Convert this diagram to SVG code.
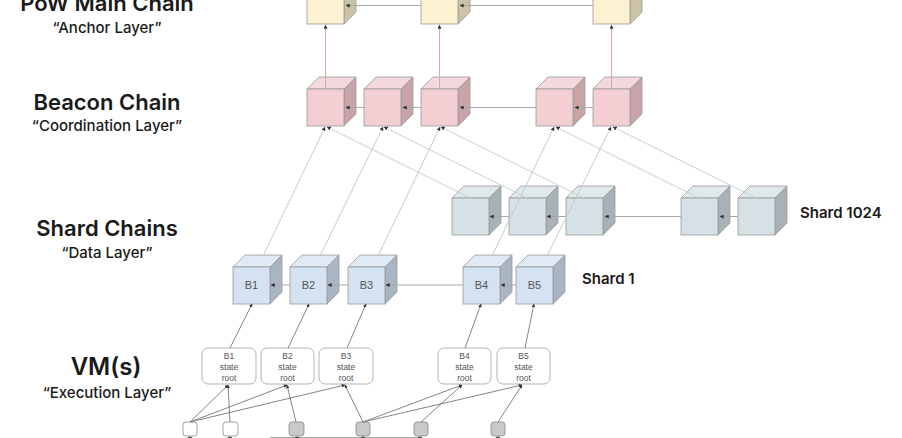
<svg xmlns="http://www.w3.org/2000/svg" width="902" height="438" viewBox="0 0 902 438">
<defs>
<style>
.h{font-family:Inter,Lato,"Noto Sans",sans-serif;font-weight:600;font-size:22px;fill:#1a1a1a;text-anchor:middle}
.sub{font-family:Inter,Lato,"Noto Sans",sans-serif;font-weight:500;font-size:15px;fill:#1a1a1a;text-anchor:middle}
.lbl{font-family:Inter,Lato,"Noto Sans",sans-serif;font-weight:600;font-size:15px;fill:#1a1a1a}
.cl{font-family:"Liberation Sans",Arial,sans-serif;font-size:11px;fill:#555;text-anchor:middle}
.rt{font-family:"Liberation Sans",Arial,sans-serif;font-size:8.5px;fill:#555;text-anchor:middle}
.cube polygon,.cube rect{stroke:#9a9a9a;stroke-width:0.8}
.pow .f{fill:#fcf1d0}.pow .t{fill:#f3ead2}.pow .s{fill:#cbc3a6}
.bea .f{fill:#f3cfd4}.bea .t{fill:#f4d9dc}.bea .s{fill:#c8a4a9}
.s1k .f{fill:#d5e1e5}.s1k .t{fill:#dfe8eb}.s1k .s{fill:#a8b2b6}
.sh1 .f{fill:#d4e2f1}.sh1 .t{fill:#e0eaf4}.sh1 .s{fill:#a9b5c3}
.root rect{fill:#fff;stroke:#aaa;stroke-width:0.9}
.sq rect{stroke:#888;stroke-width:0.8}
.chain{stroke:#a8a8a8;stroke-width:1;fill:none}
.up{stroke:#d7a9af;stroke-width:1;fill:none}
.lt{stroke:#c3cad2;stroke-width:1;fill:none}
.lg{stroke:#c9d2d0;stroke-width:1;fill:none}
.dk{stroke:#777;stroke-width:0.9;fill:none}
</style>
<marker id="ah" viewBox="0 0 6 6" refX="5.5" refY="3" markerWidth="4" markerHeight="4" orient="auto"><path d="M0,0L6,3L0,6z" fill="#333"/></marker>
</defs>
<rect width="902" height="438" fill="#fff"/>

<!-- Layer labels -->
<g id="labels">
<text class="h" x="107" y="11">PoW Main Chain</text>
<text class="sub" x="107" y="33">“Anchor Layer”</text>
<text class="h" x="107" y="110">Beacon Chain</text>
<text class="sub" x="107" y="131">“Coordination Layer”</text>
<text class="h" x="107" y="236">Shard Chains</text>
<text class="sub" x="107" y="258">“Data Layer”</text>
<text class="h" x="106" y="375" style="font-size:24px">VM(s)</text>
<text class="sub" x="107" y="398">“Execution Layer”</text>
<text class="lbl" x="800" y="218">Shard 1024</text>
<text class="lbl" x="582" y="284">Shard 1</text>
</g>

<!-- PoW cubes -->
<g id="pow-1" class="cube pow" transform="translate(307,-13)"><polygon class="t" points="0,0 12,-12 49,-12 37,0"/><polygon class="s" points="37,0 49,-12 49,25 37,37"/><rect class="f" width="37" height="37"/></g>
<g id="pow-2" class="cube pow" transform="translate(421,-13)"><polygon class="t" points="0,0 12,-12 49,-12 37,0"/><polygon class="s" points="37,0 49,-12 49,25 37,37"/><rect class="f" width="37" height="37"/></g>
<g id="pow-3" class="cube pow" transform="translate(593,-13)"><polygon class="t" points="0,0 12,-12 49,-12 37,0"/><polygon class="s" points="37,0 49,-12 49,25 37,37"/><rect class="f" width="37" height="37"/></g>

<!-- Beacon cubes -->
<g id="beacon-1" class="cube bea" transform="translate(307,89)"><polygon class="t" points="0,0 12,-12 49,-12 37,0"/><polygon class="s" points="37,0 49,-12 49,25 37,37"/><rect class="f" width="37" height="37"/></g>
<g id="beacon-2" class="cube bea" transform="translate(364,89)"><polygon class="t" points="0,0 12,-12 49,-12 37,0"/><polygon class="s" points="37,0 49,-12 49,25 37,37"/><rect class="f" width="37" height="37"/></g>
<g id="beacon-3" class="cube bea" transform="translate(421,89)"><polygon class="t" points="0,0 12,-12 49,-12 37,0"/><polygon class="s" points="37,0 49,-12 49,25 37,37"/><rect class="f" width="37" height="37"/></g>
<g id="beacon-4" class="cube bea" transform="translate(536,89)"><polygon class="t" points="0,0 12,-12 49,-12 37,0"/><polygon class="s" points="37,0 49,-12 49,25 37,37"/><rect class="f" width="37" height="37"/></g>
<g id="beacon-5" class="cube bea" transform="translate(593,89)"><polygon class="t" points="0,0 12,-12 49,-12 37,0"/><polygon class="s" points="37,0 49,-12 49,25 37,37"/><rect class="f" width="37" height="37"/></g>

<!-- Shard 1024 cubes -->
<g id="s1024-1" class="cube s1k" transform="translate(452,198)"><polygon class="t" points="0,0 12,-12 49,-12 37,0"/><polygon class="s" points="37,0 49,-12 49,25 37,37"/><rect class="f" width="37" height="37"/></g>
<g id="s1024-2" class="cube s1k" transform="translate(509,198)"><polygon class="t" points="0,0 12,-12 49,-12 37,0"/><polygon class="s" points="37,0 49,-12 49,25 37,37"/><rect class="f" width="37" height="37"/></g>
<g id="s1024-3" class="cube s1k" transform="translate(566,198)"><polygon class="t" points="0,0 12,-12 49,-12 37,0"/><polygon class="s" points="37,0 49,-12 49,25 37,37"/><rect class="f" width="37" height="37"/></g>
<g id="s1024-4" class="cube s1k" transform="translate(681,198)"><polygon class="t" points="0,0 12,-12 49,-12 37,0"/><polygon class="s" points="37,0 49,-12 49,25 37,37"/><rect class="f" width="37" height="37"/></g>
<g id="s1024-5" class="cube s1k" transform="translate(738,198)"><polygon class="t" points="0,0 12,-12 49,-12 37,0"/><polygon class="s" points="37,0 49,-12 49,25 37,37"/><rect class="f" width="37" height="37"/></g>

<!-- Shard 1 cubes -->
<g id="s1-b1" class="cube sh1" transform="translate(233,267)"><polygon class="t" points="0,0 12,-12 49,-12 37,0"/><polygon class="s" points="37,0 49,-12 49,25 37,37"/><rect class="f" width="37" height="37"/><text class="cl" x="18.5" y="22">B1</text></g>
<g id="s1-b2" class="cube sh1" transform="translate(290,267)"><polygon class="t" points="0,0 12,-12 49,-12 37,0"/><polygon class="s" points="37,0 49,-12 49,25 37,37"/><rect class="f" width="37" height="37"/><text class="cl" x="18.5" y="22">B2</text></g>
<g id="s1-b3" class="cube sh1" transform="translate(348,267)"><polygon class="t" points="0,0 12,-12 49,-12 37,0"/><polygon class="s" points="37,0 49,-12 49,25 37,37"/><rect class="f" width="37" height="37"/><text class="cl" x="18.5" y="22">B3</text></g>
<g id="s1-b4" class="cube sh1" transform="translate(463,267)"><polygon class="t" points="0,0 12,-12 49,-12 37,0"/><polygon class="s" points="37,0 49,-12 49,25 37,37"/><rect class="f" width="37" height="37"/><text class="cl" x="18.5" y="22">B4</text></g>
<g id="s1-b5" class="cube sh1" transform="translate(516,267)"><polygon class="t" points="0,0 12,-12 49,-12 37,0"/><polygon class="s" points="37,0 49,-12 49,25 37,37"/><rect class="f" width="37" height="37"/><text class="cl" x="18.5" y="22">B5</text></g>

<!-- State roots -->
<g id="root-b1" class="root"><rect x="202" y="348" width="54" height="36" rx="6"/><text class="rt" x="229" y="359">B1</text><text class="rt" x="229" y="370">state</text><text class="rt" x="229" y="381">root</text></g>
<g id="root-b2" class="root"><rect x="261" y="348" width="53" height="36" rx="6"/><text class="rt" x="287.5" y="359">B2</text><text class="rt" x="287.5" y="370">state</text><text class="rt" x="287.5" y="381">root</text></g>
<g id="root-b3" class="root"><rect x="319" y="348" width="54" height="36" rx="6"/><text class="rt" x="346" y="359">B3</text><text class="rt" x="346" y="370">state</text><text class="rt" x="346" y="381">root</text></g>
<g id="root-b4" class="root"><rect x="438" y="348" width="53" height="36" rx="6"/><text class="rt" x="464.5" y="359">B4</text><text class="rt" x="464.5" y="370">state</text><text class="rt" x="464.5" y="381">root</text></g>
<g id="root-b5" class="root"><rect x="497" y="348" width="53" height="36" rx="6"/><text class="rt" x="523.5" y="359">B5</text><text class="rt" x="523.5" y="370">state</text><text class="rt" x="523.5" y="381">root</text></g>

<!-- Small execution items -->
<g id="tx-1" class="sq"><rect x="183" y="422" width="14" height="14" rx="3" fill="#fff"/></g>
<g id="tx-2" class="sq"><rect x="223" y="422" width="15" height="14" rx="3" fill="#fff"/></g>
<g id="tx-3" class="sq"><rect x="289" y="422" width="15" height="14" rx="3" fill="#c9c9c9"/></g>
<g id="tx-4" class="sq"><rect x="356" y="422" width="14" height="14" rx="3" fill="#c9c9c9"/></g>
<g id="tx-5" class="sq"><rect x="414" y="422" width="14" height="14" rx="3" fill="#c9c9c9"/></g>
<g id="tx-6" class="sq"><rect x="491" y="422" width="14" height="14" rx="3" fill="#c9c9c9"/></g>

<!-- Connectors -->
<g id="connectors">
<line class="chain" x1="421" y1="5.5" x2="346" y2="5.5" marker-end="url(#ah)"/>
<line class="chain" x1="593" y1="5.5" x2="460" y2="5.5" marker-end="url(#ah)"/>
<line class="up" x1="325.5" y1="89" x2="325.5" y2="25" marker-end="url(#ah)"/>
<line class="up" x1="439.5" y1="89" x2="439.5" y2="25" marker-end="url(#ah)"/>
<line class="up" x1="611.5" y1="89" x2="611.5" y2="25" marker-end="url(#ah)"/>
<line class="chain" x1="364" y1="107.5" x2="346" y2="107.5" marker-end="url(#ah)"/>
<line class="chain" x1="421" y1="107.5" x2="403" y2="107.5" marker-end="url(#ah)"/>
<line class="chain" x1="536" y1="107.5" x2="460" y2="107.5" marker-end="url(#ah)"/>
<line class="chain" x1="593" y1="107.5" x2="575" y2="107.5" marker-end="url(#ah)"/>
<line class="lg" x1="470" y1="198" x2="327" y2="127" marker-end="url(#ah)"/>
<line class="lg" x1="527" y1="198" x2="384" y2="127" marker-end="url(#ah)"/>
<line class="lg" x1="584" y1="198" x2="441" y2="127" marker-end="url(#ah)"/>
<line class="lg" x1="699" y1="198" x2="556" y2="127" marker-end="url(#ah)"/>
<line class="lg" x1="756" y1="198" x2="613" y2="127" marker-end="url(#ah)"/>
<line class="chain" x1="509" y1="216.5" x2="490" y2="216.5" marker-end="url(#ah)"/>
<line class="chain" x1="566" y1="216.5" x2="547" y2="216.5" marker-end="url(#ah)"/>
<line class="chain" x1="681" y1="216.5" x2="605" y2="216.5" marker-end="url(#ah)"/>
<line class="chain" x1="738" y1="216.5" x2="720" y2="216.5" marker-end="url(#ah)"/>
<line class="lt" x1="263" y1="256" x2="325" y2="127" marker-end="url(#ah)"/>
<line class="lt" x1="320" y1="256" x2="383" y2="127" marker-end="url(#ah)"/>
<line class="lt" x1="378" y1="256" x2="440" y2="127" marker-end="url(#ah)"/>
<line class="lt" x1="492" y1="256" x2="554" y2="127" marker-end="url(#ah)"/>
<line class="lt" x1="547" y1="256" x2="611" y2="127" marker-end="url(#ah)"/>
<line class="chain" x1="290" y1="285" x2="271" y2="285" marker-end="url(#ah)"/>
<line class="chain" x1="348" y1="285" x2="328" y2="285" marker-end="url(#ah)"/>
<line class="chain" x1="463" y1="285" x2="386" y2="285" marker-end="url(#ah)"/>
<line class="chain" x1="516" y1="285" x2="501" y2="285" marker-end="url(#ah)"/>
<line class="dk" x1="230" y1="348" x2="252" y2="304" marker-end="url(#ah)"/>
<line class="dk" x1="288" y1="348" x2="309" y2="304" marker-end="url(#ah)"/>
<line class="dk" x1="347" y1="348" x2="366" y2="304" marker-end="url(#ah)"/>
<line class="dk" x1="465" y1="348" x2="481" y2="304" marker-end="url(#ah)"/>
<line class="dk" x1="525" y1="348" x2="534" y2="304" marker-end="url(#ah)"/>
<line class="dk" x1="190" y1="422" x2="228" y2="385" marker-end="url(#ah)"/>
<line class="dk" x1="190" y1="422" x2="287" y2="385" marker-end="url(#ah)"/>
<line class="dk" x1="190" y1="422" x2="345" y2="385" marker-end="url(#ah)"/>
<line class="dk" x1="230" y1="422" x2="228" y2="385" marker-end="url(#ah)"/>
<line class="dk" x1="296" y1="422" x2="287" y2="385" marker-end="url(#ah)"/>
<line class="dk" x1="363" y1="422" x2="345" y2="385" marker-end="url(#ah)"/>
<line class="dk" x1="363" y1="422" x2="462" y2="385" marker-end="url(#ah)"/>
<line class="dk" x1="363" y1="422" x2="522" y2="385" marker-end="url(#ah)"/>
<line class="dk" x1="421" y1="422" x2="462" y2="385" marker-end="url(#ah)"/>
<line class="dk" x1="498" y1="422" x2="522" y2="385" marker-end="url(#ah)"/>
<line class="chain" x1="270" y1="437.5" x2="420" y2="437.5"/>
<g fill="#444"><circle cx="190" cy="439" r="2.5"/><circle cx="230" cy="439" r="2.5"/><circle cx="297" cy="439" r="2.5"/><circle cx="363" cy="439" r="2.5"/><circle cx="420" cy="439" r="2.5"/><circle cx="498" cy="439" r="2.5"/></g>
</g>
</svg>
